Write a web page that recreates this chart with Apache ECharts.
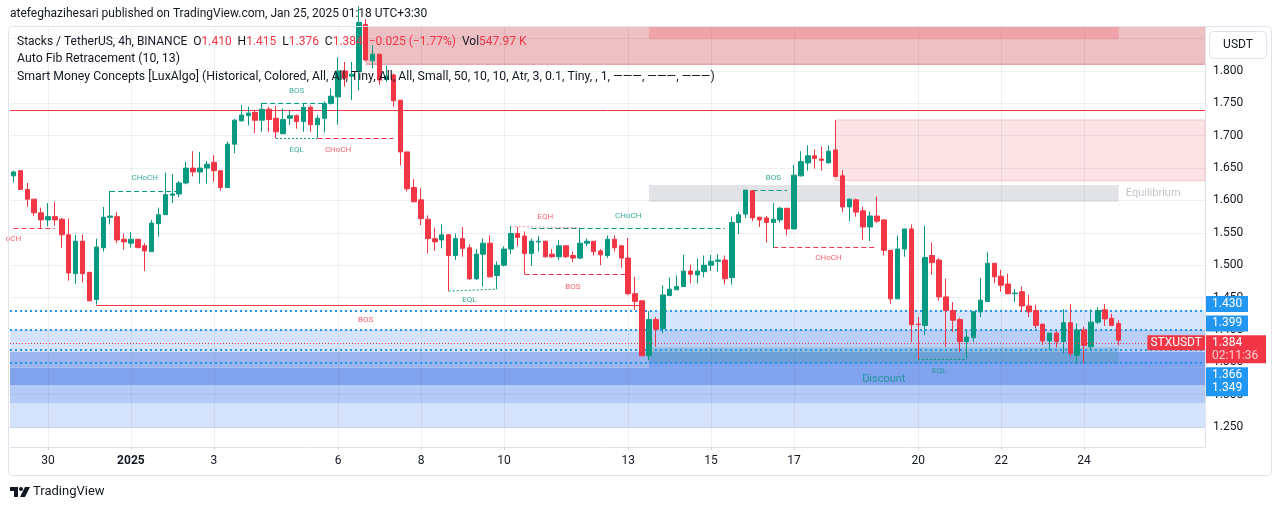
<!DOCTYPE html>
<html>
<head>
<meta charset="utf-8">
<script src="https://cdn.jsdelivr.net/npm/echarts@6/dist/echarts.min.js"></script>
<style>
  html, body { margin: 0; padding: 0; background: #fff; }
  #chart { width: 1281px; height: 509px; }
</style>
</head>
<body>
<div id="chart"></div>
<script>
// STX/USDT 4h candles, 29 Dec 2024 04:00 -> 24 Jan 2025 20:00 (UTC)
const opens = [1.638,1.646,1.617,1.602,1.581,1.570,1.575,1.571,1.547,1.487,
  1.537,1.489,1.447,1.527,1.574,1.575,1.540,1.534,1.540,1.530,
  1.521,1.564,1.578,1.608,1.610,1.627,1.650,1.644,1.650,1.659,
  1.646,1.620,1.687,1.723,1.731,1.736,1.724,1.741,1.727,1.703,
  1.727,1.731,1.722,1.744,1.717,1.727,1.750,1.760,1.800,1.792,
  1.799,1.872,1.816,1.826,1.787,1.794,1.755,1.675,1.620,1.601,
  1.571,1.541,1.539,1.547,1.515,1.541,1.527,1.479,1.517,1.534,
  1.484,1.500,1.525,1.549,1.545,1.518,1.536,1.537,1.517,1.513,
  1.530,1.515,1.511,1.534,1.537,1.522,1.515,1.540,1.530,1.511,
  1.456,1.445,1.360,1.416,1.402,1.453,1.462,1.467,1.491,1.485,
  1.490,1.500,1.506,1.508,1.481,1.566,1.579,1.615,1.574,1.573,
  1.566,1.570,1.588,1.556,1.638,1.658,1.669,1.664,1.658,1.678,
  1.638,1.590,1.601,1.584,1.559,1.576,1.570,1.523,1.448,1.525,
  1.556,1.409,1.407,1.515,1.508,1.451,1.430,1.416,1.382,1.388,
  1.428,1.444,1.503,1.483,1.471,1.456,1.459,1.437,1.430,1.409,
  1.383,1.395,1.382,1.411,1.361,1.400,1.374,1.412,1.431,1.418,
  1.410];
const highs = [1.646,1.647,1.627,1.602,1.589,1.596,1.598,1.573,1.572,1.547,
  1.547,1.489,1.541,1.590,1.615,1.582,1.549,1.551,1.541,1.534,
  1.570,1.589,1.643,1.641,1.630,1.660,1.676,1.675,1.661,1.670,
  1.646,1.691,1.726,1.747,1.745,1.739,1.751,1.745,1.746,1.742,
  1.739,1.733,1.750,1.747,1.732,1.753,1.773,1.821,1.814,1.814,
  1.900,1.880,1.840,1.826,1.808,1.796,1.755,1.675,1.633,1.619,
  1.577,1.558,1.563,1.548,1.549,1.559,1.532,1.525,1.541,1.546,
  1.506,1.529,1.560,1.559,1.552,1.541,1.545,1.538,1.525,1.539,
  1.530,1.521,1.557,1.541,1.537,1.525,1.546,1.546,1.530,1.542,
  1.482,1.445,1.429,1.420,1.469,1.481,1.484,1.516,1.501,1.510,
  1.515,1.516,1.517,1.515,1.575,1.583,1.616,1.615,1.575,1.576,
  1.596,1.590,1.588,1.655,1.676,1.685,1.679,1.683,1.685,1.724,
  1.647,1.603,1.603,1.590,1.583,1.606,1.571,1.523,1.546,1.556,
  1.563,1.420,1.561,1.535,1.511,1.479,1.443,1.419,1.400,1.428,
  1.480,1.520,1.503,1.493,1.487,1.463,1.467,1.454,1.439,1.409,
  1.395,1.398,1.432,1.440,1.410,1.405,1.432,1.435,1.440,1.425,
  1.415];
const lows = [1.628,1.617,1.590,1.576,1.556,1.560,1.561,1.527,1.476,1.471,
  1.473,1.444,1.439,1.521,1.563,1.534,1.524,1.527,1.527,1.491,
  1.521,1.544,1.578,1.596,1.605,1.625,1.637,1.626,1.626,1.629,
  1.615,1.619,1.673,1.722,1.716,1.704,1.706,1.706,1.696,1.703,
  1.717,1.711,1.706,1.706,1.697,1.705,1.748,1.717,1.776,1.755,
  1.770,1.815,1.804,1.779,1.783,1.745,1.654,1.614,1.597,1.562,
  1.518,1.522,1.526,1.460,1.508,1.513,1.477,1.477,1.467,1.481,
  1.463,1.498,1.517,1.529,1.486,1.499,1.521,1.512,1.511,1.508,
  1.511,1.505,1.509,1.529,1.515,1.500,1.511,1.521,1.496,1.454,
  1.431,1.360,1.353,1.374,1.395,1.453,1.462,1.467,1.472,1.472,
  1.481,1.491,1.490,1.470,1.470,1.548,1.573,1.568,1.559,1.535,
  1.527,1.566,1.546,1.556,1.637,1.646,1.649,1.646,1.658,1.637,
  1.582,1.568,1.575,1.539,1.537,1.565,1.515,1.440,1.448,1.513,
  1.381,1.355,1.392,1.485,1.445,1.374,1.397,1.366,1.356,1.381,
  1.420,1.443,1.472,1.459,1.455,1.443,1.428,1.420,1.402,1.377,
  1.369,1.373,1.364,1.359,1.348,1.348,1.369,1.409,1.406,1.406,
  1.376];
const closes = [1.644,1.617,1.602,1.581,1.570,1.575,1.570,1.547,1.488,1.537,
  1.487,1.445,1.528,1.574,1.576,1.539,1.536,1.540,1.527,1.522,
  1.565,1.578,1.609,1.610,1.627,1.650,1.644,1.650,1.656,1.646,
  1.620,1.687,1.724,1.732,1.735,1.724,1.741,1.725,1.706,1.725,
  1.731,1.722,1.744,1.717,1.727,1.750,1.761,1.800,1.789,1.795,
  1.875,1.817,1.826,1.786,1.792,1.754,1.675,1.618,1.598,1.572,
  1.541,1.536,1.547,1.515,1.541,1.526,1.479,1.517,1.534,1.482,
  1.500,1.525,1.549,1.543,1.518,1.537,1.537,1.513,1.513,1.530,
  1.513,1.511,1.534,1.537,1.521,1.516,1.540,1.527,1.511,1.456,
  1.444,1.360,1.416,1.401,1.454,1.463,1.467,1.491,1.486,1.491,
  1.500,1.506,1.508,1.479,1.566,1.578,1.616,1.573,1.570,1.566,
  1.571,1.588,1.556,1.639,1.660,1.669,1.665,1.662,1.676,1.637,
  1.590,1.602,1.582,1.559,1.576,1.568,1.523,1.448,1.525,1.556,
  1.408,1.408,1.512,1.504,1.451,1.430,1.415,1.382,1.389,1.428,
  1.446,1.503,1.482,1.469,1.456,1.457,1.437,1.428,1.407,1.383,
  1.395,1.382,1.411,1.364,1.400,1.376,1.412,1.430,1.417,1.407,
  1.384];

const emptySlots = 12; // free space right of the last bar

// time axis labels
const dayTicks = {
  '2024-12-30 00:00': '30', '2025-01-01 00:00': '2025', '2025-01-03 00:00': '3',
  '2025-01-06 00:00': '6', '2025-01-08 00:00': '8', '2025-01-10 00:00': '10',
  '2025-01-13 00:00': '13', '2025-01-15 00:00': '15', '2025-01-17 00:00': '17',
  '2025-01-20 00:00': '20', '2025-01-22 00:00': '22', '2025-01-24 00:00': '24'
};
const priceTicks = [1.25, 1.30, 1.35, 1.40, 1.45, 1.50, 1.55, 1.60, 1.65, 1.70, 1.75, 1.80];
const gridPrices = [1.25, 1.30, 1.35, 1.40, 1.45, 1.50, 1.55, 1.60, 1.65, 1.70, 1.75, 1.80, 1.85];
const yMin = 1.2191, yMax = 1.868;

// SMC structure lines: [fromBar, toBar, priceStart, priceEnd, kind]
const structureLines = [
  [0, 6, 1.557, 1.557, 'bearDash'],
  [14, 24, 1.6146, 1.6146, 'bullDash'],
  [12, 91, 1.4385, 1.4385, 'bearSolid'],
  [36, 45, 1.7495, 1.7495, 'bullDash'],
  [38, 44, 1.6965, 1.6965, 'bullDot'],
  [44, 55, 1.6965, 1.6965, 'bearDash'],
  [63, 70, 1.460, 1.463, 'bullDot'],
  [72, 82, 1.5598, 1.558, 'bearDot'],
  [75, 103, 1.5574, 1.5574, 'bullDash'],
  [74, 89, 1.486, 1.486, 'bearDash'],
  [107, 112, 1.6155, 1.6155, 'bullDash'],
  [110, 125, 1.528, 1.528, 'bearDash'],
  [131, 138, 1.355, 1.355, 'bullDot']
];
// labels: [bar, price, text, kind]
const structureLabels = [
  [0, 1.5405, 'oCH', 'bear'],
  [19, 1.6347, 'CHoCH', 'bull'],
  [41, 1.769, 'BOS', 'bull'],
  [41, 1.678, 'EQL', 'bull'],
  [47, 1.678, 'CHoCH', 'bear'],
  [51, 1.4153, 'BOS', 'bear'],
  [66, 1.4462, 'EQL', 'bull'],
  [77, 1.5744, 'EQH', 'bear'],
  [81, 1.4663, 'BOS', 'bear'],
  [89, 1.5765, 'CHoCH', 'bull'],
  [110, 1.6352, 'BOS', 'bull'],
  [118, 1.5106, 'CHoCH', 'bear'],
  [134, 1.337, 'EQL', 'bull'],
  [126, 1.3237, 'Discount', 'zone'],
  [165, 1.6115, 'Equilibrium', 'eq']
];
// zones: [fromBar, toBar, top, bottom, kind]  (null = chart edge)
const zones = [
  [51, null, yMax, 1.8103, 'premium'],
  [51, null, 1.8112, 1.8097, 'premiumEdge'],
  [92, 160, yMax, 1.849, 'premiumTop'],
  [119, null, 1.7243, 1.6305, 'orderBlock'],
  [92, 160, 1.6239, 1.598, 'equilibrium'],
  [null, null, 1.400, 1.366, 'd1'],
  [null, null, 1.366, 1.3415, 'd2'],
  [null, null, 1.3415, 1.315, 'd3'],
  [null, null, 1.315, 1.287, 'd4'],
  [null, null, 1.287, 1.2485, 'd5'],
  [92, null, 1.430, 1.400, 'r1'],
  [92, null, 1.400, 1.366, 'r2'],
  [92, 160, 1.373, 1.366, 'r3'],
  [92, null, 1.366, 1.3415, 'r4'],
  [92, 160, 1.366, 1.349, 'r5']
];
const resistance = 1.7406;
const keyLevels = [1.430, 1.3999, 1.366, 1.349];
const lastPrice = 1.384;
// price scale tags: [text, colour kind]
const priceTags = [['1.430', 'blue'], ['1.399', 'blue'], ['1.384', 'red'], ['02:11:36', 'red'], ['1.366', 'blue'], ['1.349', 'blue']];
const tagCenters = [1.4354, 1.4107, 1.3818, 1.3597, 1.3324, 1.3076]; // stacked like TradingView does

const FONT = 'Roboto, "Noto Sans", sans-serif';
const UP = '#089981', DOWN = '#f23645';

const zoneColors = {
  premium: '#edc0c4', premiumEdge: '#e58d94', premiumTop: '#efa4a9',
  orderBlock: '#fce4e6', equilibrium: '#e2e3e6',
  d1: '#d5e3fb', d2: '#9bb6ef', d3: '#81a3ed', d4: '#b4cbf7', d5: '#d4e2fb',
  r1: '#d6e4fc', r2: '#b9cff7', r3: '#93bcdc', r4: '#80a3ee', r5: '#6ca0d7'
};
const lineStyles = {
  bearDash: { color: DOWN, type: [5, 3], width: 1 },
  bullDash: { color: UP, type: [5, 3], width: 1 },
  bearSolid: { color: DOWN, type: 'solid', width: 1 },
  bullDot: { color: UP, type: [2, 2], width: 1 },
  bearDot: { color: '#f59aa2', type: [2, 2], width: 1 }
};
const labelColors = { bull: UP, bear: DOWN, zone: '#0b8f8a', eq: '#b2b5be' };

// categories: one per 4h bar
const start = Date.UTC(2024, 11, 29, 4);
const cats = [];
for (let i = 0; i < opens.length + emptySlots; i++) {
  const d = new Date(start + i * 4 * 3600 * 1000);
  cats.push(d.toISOString().slice(0, 16).replace('T', ' '));
}
const candles = opens.map((o, i) => [o, closes[i], lows[i], highs[i]]);
const isTick = (idx, val) => dayTicks[val] !== undefined;

function zonePoint(bar, price) {
  const p = { yAxis: price };
  if (bar !== null) p.xAxis = cats[bar];
  return p;
}

const chart = echarts.init(document.getElementById('chart'));

const option = {
  animation: false,
  backgroundColor: '#ffffff',
  textStyle: { fontFamily: FONT },
  grid: { left: 10, right: 76, top: 27, bottom: 62 },
  xAxis: {
    type: 'category',
    data: cats,
    boundaryGap: true,
    axisLine: { show: true, lineStyle: { color: '#e0e3eb' } },
    axisTick: { show: true, interval: isTick, alignWithLabel: true, length: 3, lineStyle: { color: '#d1d4dc' } },
    splitLine: { show: false },
    axisLabel: {
      interval: isTick,
      margin: 8,
      color: '#131722',
      fontSize: 12,
      fontFamily: FONT,
      formatter: v => dayTicks[v] === '2025' ? '{b|2025}' : (dayTicks[v] || ''),
      rich: { b: { fontWeight: 'bold', fontSize: 12, color: '#131722', fontFamily: FONT } }
    }
  },
  yAxis: {
    type: 'value',
    position: 'right',
    min: yMin,
    max: yMax,
    scale: true,
    axisLine: { show: true, lineStyle: { color: '#e0e3eb' } },
    axisTick: { show: false },
    splitLine: { show: false },
    axisLabel: {
      customValues: priceTicks,
      margin: 8,
      color: '#131722',
      fontSize: 12,
      fontFamily: FONT,
      formatter: v => v.toFixed(3)
    }
  },
  series: [
    {
      // background zones
      name: 'zones',
      type: 'line',
      data: [],
      silent: true,
      markArea: {
        silent: true,
        z: 1,
        data: zones.map(([a, b, top, bottom, kind]) => [
          Object.assign(zonePoint(a, top), {
            itemStyle: kind === 'orderBlock'
              ? { color: zoneColors[kind], borderColor: '#f6c6ca', borderWidth: 1 }
              : { color: zoneColors[kind] }
          }),
          zonePoint(b, bottom)
        ])
      }
    },
    {
      // grid lines
      name: 'grid',
      type: 'line',
      data: [],
      silent: true,
      markLine: {
        silent: true,
        z: 2,
        symbol: 'none',
        label: { show: false },
        lineStyle: { color: 'rgba(42,46,57,0.07)', type: 'solid', width: 1 },
        data: gridPrices.map(p => ({ yAxis: p }))
          .concat(Object.keys(dayTicks).map(t => ({ xAxis: t })))
      }
    },
    {
      // structure + key levels
      name: 'structure',
      type: 'line',
      data: [],
      silent: true,
      markLine: {
        silent: true,
        z: 3,
        symbol: 'none',
        label: { show: false },
        data: [{ yAxis: resistance, lineStyle: { color: DOWN, type: 'solid', width: 1 } }]
          .concat(keyLevels.map(p => ({ yAxis: p, lineStyle: { color: '#2196f3', type: [2, 3], width: 2 } })))
          .concat(structureLines.map(([a, b, p1, p2, k]) => [
            { coord: [cats[a], p1], lineStyle: lineStyles[k] },
            { coord: [cats[b], p2] }
          ]))
      }
    },
    {
      name: 'STXUSDT',
      type: 'candlestick',
      data: candles,
      z: 4,
      clip: true,
      barWidth: 5,
      itemStyle: { color: UP, color0: DOWN, borderColor: UP, borderColor0: DOWN, borderWidth: 1 }
    },
    {
      // chart texts
      name: 'labels',
      type: 'scatter',
      z: 6,
      silent: true,
      clip: false,
      symbolSize: 1,
      itemStyle: { color: 'transparent' },
      data: structureLabels.map(([bar, price, text, kind]) => ({
        value: [cats[bar], price],
        label: {
          show: true,
          position: 'inside',
          formatter: text,
          color: labelColors[kind],
          fontSize: kind === 'zone' || kind === 'eq' ? 11 : 8,
          fontFamily: FONT
        }
      }))
    },
    {
      // last price line and price scale tags
      name: 'tags',
      type: 'line',
      data: [],
      silent: true,
      clip: false,
      markLine: {
        silent: true,
        z: 7,
        symbol: 'none',
        data: [{
          yAxis: lastPrice,
          lineStyle: { color: DOWN, type: [1, 2], width: 1 },
          label: {
            show: true, position: 'insideEnd', distance: 0, formatter: 'STXUSDT',
            backgroundColor: DOWN, color: '#fff', fontSize: 12, fontFamily: FONT,
            padding: [2, 3, 1, 3]
          }
        }].concat(priceTags.map(([text, kind], i) => ({
          yAxis: tagCenters[i],
          lineStyle: { color: 'rgba(0,0,0,0)', width: 0 },
          label: {
            show: true, position: 'end', distance: 1, formatter: text,
            backgroundColor: kind === 'red' ? DOWN : '#2196f3',
            color: kind === 'red' && i === 3 ? 'rgba(255,255,255,0.75)' : '#fff',
            fontSize: 12, fontFamily: FONT,
            width: kind === 'red' ? 48 : 30,
            lineHeight: kind === 'red' ? 14 : 12,
            padding: kind === 'red' ? [1, 6, 0, 6] : [2, 6, 2, 6]
          }
        })))
      }
    }
  ],
  graphic: [
    { type: 'rect', z: 50, silent: true, shape: { x: 8.5, y: 26.5, width: 1263, height: 449, r: 4 },
      style: { fill: 'none', stroke: '#e0e3eb', lineWidth: 1 } },
    { type: 'text', z: 100, x: 10, y: 14,
      style: { text: 'atefeghazihesari published on TradingView.com, Jan 25, 2025 01:18 UTC+3:30',
        font: '12px ' + FONT, fill: '#131722', verticalAlign: 'middle' } },
    { type: 'text', z: 100, x: 17, y: 42,
      style: {
        text: '{k|Stacks / TetherUS, 4h, BINANCE  O}{v|1.410}{k|  H}{v|1.415}{k|  L}{v|1.376}{k|  C}{v|1.384}{v|  −0.025 (−1.77%)}{k|  Vol}{v|547.97 K}',
        verticalAlign: 'middle',
        rich: {
          k: { fontSize: 12, fontFamily: FONT, fill: '#131722' },
          v: { fontSize: 12, fontFamily: FONT, fill: DOWN }
        }
      } },
    { type: 'text', z: 100, x: 17, y: 59,
      style: { text: 'Auto Fib Retracement (10, 13)', font: '12.3px ' + FONT, fill: '#131722', verticalAlign: 'middle' } },
    { type: 'text', z: 100, x: 17, y: 77,
      style: { text: 'Smart Money Concepts [LuxAlgo] (Historical, Colored, All, All, Tiny, All, All, Small, 50, 10, 10, Atr, 3, 0.1, Tiny, , 1, ———, ———, ———)',
        font: '12.3px ' + FONT, fill: '#131722', verticalAlign: 'middle' } },
    { type: 'rect', z: 100, shape: { x: 1209.5, y: 31.5, width: 57, height: 27, r: 4 },
      style: { fill: '#fff', stroke: '#e0e3eb', lineWidth: 1 } },
    { type: 'text', z: 101, x: 1238, y: 45,
      style: { text: 'USDT', font: '12px ' + FONT, fill: '#131722', align: 'center', verticalAlign: 'middle' } },
    // TradingView logo
    { type: 'rect', z: 100, shape: { x: 10, y: 487, width: 8, height: 4 }, style: { fill: '#131722' } },
    { type: 'rect', z: 100, shape: { x: 14, y: 487, width: 4, height: 10 }, style: { fill: '#131722' } },
    { type: 'circle', z: 100, shape: { cx: 21, cy: 489, r: 2 }, style: { fill: '#131722' } },
    { type: 'polygon', z: 100, shape: { points: [[25, 487], [30, 487], [25, 497], [20, 497]] }, style: { fill: '#131722' } },
    { type: 'text', z: 100, x: 33, y: 492,
      style: { text: 'TradingView', font: '13px ' + FONT, fill: '#131722', verticalAlign: 'middle' } }
  ]
};

chart.setOption(option);
</script>
</body>
</html>
